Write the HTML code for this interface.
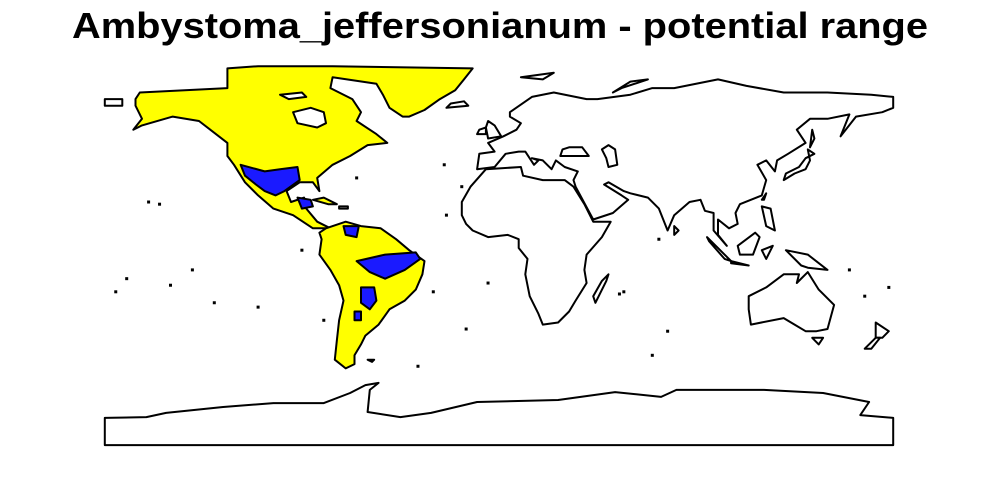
<!DOCTYPE html>
<html><head><meta charset="utf-8"><style>
html,body{margin:0;padding:0;background:#fff;width:1000px;height:500px;overflow:hidden}
</style></head><body>
<svg id="map" width="1000" height="500" viewBox="0 0 1000 500">
<text x="72" y="38" textLength="856" lengthAdjust="spacingAndGlyphs" font-family="Liberation Sans, sans-serif" font-weight="bold" font-size="36">Ambystoma_jeffersonianum - potential range</text>
<g id="land"></g>
</svg>
<script>
const northAmerica=[[-166,68],[-164,71],[-124,73],[-124,82],[-110,83],[-76,83],[-12,82],[-16,77],[-20,72],[-27,68],[-34,63],[-41,60],[-44,60],[-50,64],[-53,70],[-56,75],[-76,78],[-77,73],[-67,68],[-63,62],[-65,58],[-56,52],[-51,48],[-60,47],[-68,42],[-76,38],[-83,32],[-82,26],[-85,30],[-91,30],[-97,26],[-95,21],[-89,23],[-88,18],[-83,12],[-77,9],[-85,9],[-94,15],[-103,18],[-110,24],[-116,30],[-121,38],[-124,42],[-124,48],[-137,58],[-149,60],[-163,56],[-167,54],[-163,59],[-166,65]];
const hudsonBay=[[-94,62],[-86,64],[-80,62],[-79,57],[-83,55],[-92,57]];
const baffinHole=[[-100,70],[-90,71],[-88,69],[-96,68]];
const cuba=[[-85,22],[-80,23],[-74,20],[-78,20]];
const hispaniola=[[-73,19],[-69,19],[-69,18],[-73,18]];
const southAmerica=[[-79,9],[-70,12],[-63,10],[-54,9],[-47,4],[-41,-1],[-34,-6],[-35,-12],[-38,-19],[-43,-24],[-50,-28],[-55,-35],[-61,-40],[-63,-44],[-66,-49],[-66,-53],[-70,-55],[-75,-51],[-74,-42],[-73,-33],[-71,-24],[-73,-17],[-77,-10],[-82,-3],[-81,4],[-82,7]];
const blueMexico=[[-118,38],[-107,35],[-100,36],[-92,37],[-91,31],[-98,26],[-102,24],[-107,26],[-111,29],[-116,33]];
const blueCentral=[[-92,23],[-86,22],[-85,19],[-90,18]];
const blueVenezuela=[[-71,10],[-64,10],[-65,5],[-70,6]];
const blueAmazon=[[-65,-6],[-52,-3],[-38,-2],[-36,-5],[-43,-10],[-52,-14],[-59,-11]];
const blueParaguay=[[-63,-18],[-57,-18],[-56,-24],[-59,-28],[-63,-25]];
const blueSouth=[[-66,-29],[-63,-29],[-63,-33],[-66,-33]];
const eurasia=[[-10,36],[-9,43],[-2,44],[-5,48],[2,51],[8,54],[10,57],[5,60],[5,62],[15,69],[25,71],[40,68],[45,68],[60,70],[70,73],[80,73],[100,77],[113,74],[130,71],[150,71],[170,70],[180,69],[180,64],[175,62],[163,60],[156,51],[160,61],[150,59],[142,59],[136,54],[140,48],[132,43],[127,40],[126,35],[122,40],[118,38],[122,31],[120,24],[110,20],[108,16],[109,11],[105,9],[100,13],[100,6],[104,1],[98,8],[98,16],[94,17],[92,22],[87,21],[80,15],[77,8],[73,18],[68,23],[60,25],[57,26],[50,30],[48,29],[56,24],[59,22],[52,16],[43,13],[35,28],[34,31],[36,35],[30,37],[26,40],[24,36],[20,40],[15,41],[18,40],[16,38],[12,44],[9,44],[3,43],[-2,37]];
const blackSea=[[28,42],[35,42],[41,42],[38,46],[32,46],[29,45]];
const caspian=[[47,45],[50,47],[53,45],[54,38],[50,37],[49,41]];
const africa=[[-17,15],[-17,21],[-13,28],[-6,36],[10,37],[11,33],[20,31],[30,31],[34,28],[39,20],[43,12],[51,12],[47,5],[40,-3],[39,-10],[40,-16],[35,-24],[32,-29],[27,-34],[20,-35],[18,-30],[14,-22],[12,-12],[13,-5],[9,0],[9,4],[4,6],[-5,5],[-12,8],[-15,11]];
const australia=[[114,-22],[122,-18],[130,-12],[137,-12],[136,-16],[141,-11],[146,-19],[153,-26],[150,-37],[145,-38],[140,-38],[135,-35],[130,-32],[115,-35],[114,-28]];
const islands=[[[44,-25],[49,-15],[50,-12],[47,-15],[43,-22]],[[-5,50],[1,51],[-2,56],[-5,58],[-6,55]],[[-10,52],[-6,52],[-6,55],[-9,54]],[[-24,64],[-14,65],[-16,67],[-22,66]],[[130,31],[135,34],[140,36],[142,40],[141,45],[144,43],[140,41],[137,37],[131,34]],[[109,1],[117,7],[119,5],[116,-3],[110,-3]],[[95,5],[106,-6],[103,-5],[96,3]],[[131,-1],[141,-3],[150,-10],[141,-9],[138,-8]],[[106,-6],[114,-8],[106,-7]],[[172,-34],[178,-38],[175,-41],[172,-41]],[[172,-41],[174,-41],[170,-46],[167,-46]],[[120,19],[124,18],[126,8],[122,10]],[[120,-1],[125,1],[122,-5]],[[10,78],[25,80],[20,77]],[[52,71],[60,76],[68,77],[56,73]],[[80,6],[82,8],[80,10]],[[143,-41],[148,-41],[146,-44]],[[120,22],[122,25],[121,22]],[[142,46],[143,54],[144,50]],[[-180,68],[-172,68],[-172,65],[-180,65]],[[-60,-51],[-57,-51],[-58,-52]]];
const antarctica=[[-180,-77.6],[-161,-77.2],[-152,-75.3],[-126,-72.6],[-103,-70.8],[-80,-70.8],[-68,-66.2],[-61,-62.6],[-55,-61.6],[-59,-64.8],[-60,-74.9],[-45,-77.2],[-31,-75.3],[-10,-70.3],[27,-69.4],[53,-65.8],[74,-68],[81,-64.8],[121,-64.8],[148,-66.2],[169,-70.3],[165,-76.3],[180,-77.6],[180,-90],[-180,-90]];
const dots=[[-170,-14],[-150,-17],[-160,21],[-25,38],[-17,28],[-24,15],[-37,-54],[55,-21],[57,-20],[73,4],[167,-22],[178,-18],[-140,-10],[-80,-33],[-110,-27],[-15,-37],[-5,-16],[-130,-25],[-155,20],[-65,32],[-30,-20],[70,-49],[77,-38],[160,-10],[-175,-20],[-90,-1]];

const X=lon=>499+lon*2.19, Y=lat=>248-lat*2.19;
const g=document.getElementById('land');
function poly(pts,fill,name){
  const p=document.createElementNS('http://www.w3.org/2000/svg','polygon');
  p.setAttribute('points',pts.map(q=>X(q[0]).toFixed(1)+','+Y(q[1]).toFixed(1)).join(' '));
  p.setAttribute('fill',fill);p.setAttribute('stroke','#000');p.setAttribute('stroke-width',2);p.setAttribute('stroke-linejoin','round');
  
  
  g.appendChild(p);
}
const Yel='#ffff00', Blu='#1a1aff', W='#fff';
poly(northAmerica,Yel,'north-america-range');
poly(hudsonBay,W,'hudson-bay');
poly(baffinHole,W,'arctic-lake');
poly(cuba,Yel,'cuba-range');
poly(hispaniola,W,'hispaniola');
poly(southAmerica,Yel,'south-america-range');
poly(blueMexico,Blu,'core-range-mexico');
poly(blueCentral,Blu,'core-range-central-america');
poly(blueVenezuela,Blu,'core-range-venezuela');
poly(blueAmazon,Blu,'core-range-amazon');
poly(blueParaguay,Blu,'core-range-paraguay');
poly(blueSouth,Blu,'core-range-south');
poly(eurasia,W,'eurasia');
poly(blackSea,W,'black-sea');
poly(caspian,W,'caspian-sea');
poly(africa,W,'africa');
poly(australia,W,'australia');
islands.forEach(a=>poly(a,W,'island'));
poly(antarctica,W,'antarctica');
dots.forEach(d=>{
  const c=document.createElementNS('http://www.w3.org/2000/svg','rect');
  c.setAttribute('x',X(d[0])-1.5);c.setAttribute('y',Y(d[1])-1.5);c.setAttribute('width',3);c.setAttribute('height',3);c.setAttribute('fill','#000');
  
  
  g.appendChild(c);
});
</script>
</body></html>
